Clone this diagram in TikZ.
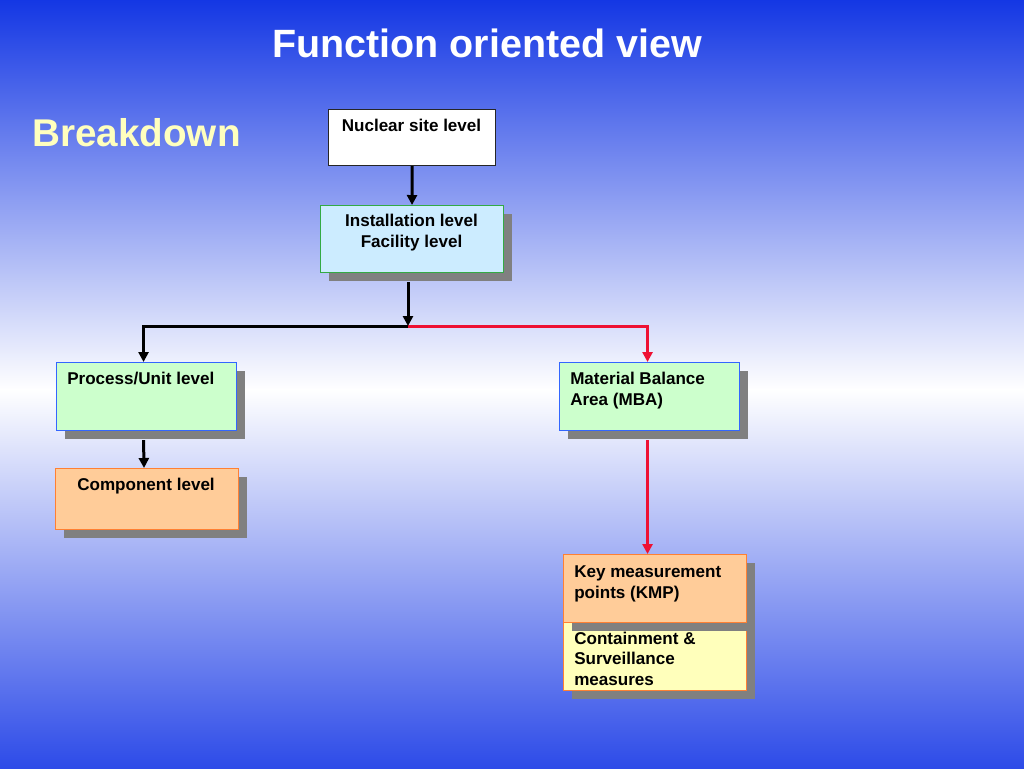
\documentclass[tikz,border=0pt]{standalone}
\usepackage{fontspec}
\setmainfont{Liberation Sans}
\usetikzlibrary{arrows.meta,shadows,calc}
\definecolor{topblue}{RGB}{20,55,228}
\definecolor{botblue}{RGB}{45,75,232}
\definecolor{breakyel}{RGB}{255,255,190}
\definecolor{instfill}{RGB}{204,236,255}
\definecolor{instdraw}{RGB}{51,170,68}
\definecolor{grnfill}{RGB}{204,255,204}
\definecolor{bluedraw}{RGB}{51,102,255}
\definecolor{orfill}{RGB}{255,204,153}
\definecolor{ordraw}{RGB}{255,128,51}
\definecolor{yelfill}{RGB}{255,255,187}
\definecolor{shadowgray}{RGB}{128,128,128}
\definecolor{redline}{RGB}{238,17,51}
\begin{document}
\begin{tikzpicture}[x=0.75pt,y=-0.75pt,
  box/.style={rectangle, inner sep=0pt, anchor=north west, line width=0.8pt},
  shbox/.style={box, general shadow={fill=shadowgray, shadow xshift=6.4pt, shadow yshift=-6.4pt}},
  lbl/.style={font=\bfseries\fontsize{12.8}{15.3}\selectfont, inner sep=0pt, align=left},
  blk/.style={draw=black, line width=2.25pt, -{Triangle[length=7.5pt,width=7.5pt]}},
  redl/.style={draw=redline, line width=2.25pt, -{Triangle[length=7.5pt,width=7.5pt]}}
]
\useasboundingbox (0,0) rectangle (1024,768);
\shade[top color=topblue, bottom color=white] (0,0) rectangle (1024,390);
\shade[top color=white, bottom color=botblue] (0,389) rectangle (1024,768);

\node[font=\bfseries\fontsize{29.6}{35}\selectfont, text=white, anchor=base west, inner sep=0pt] (title) at (272,57) {Function oriented view};
\node[font=\bfseries\fontsize{29}{35}\selectfont, text=breakyel, anchor=base west, inner sep=0pt] (brk) at (32,146) {Breakdown};

\node[box, fill=white, draw=black!85, line width=0.9pt, minimum width=125.25pt, minimum height=42pt] (nuc) at (328,109) {};
\node[shbox, fill=instfill, draw=instdraw, minimum width=137.25pt, minimum height=50.25pt] (inst) at (320,205) {};
\node[shbox, fill=grnfill, draw=bluedraw, minimum width=135pt, minimum height=51pt] (proc) at (56,362) {};
\node[shbox, fill=orfill, draw=ordraw, minimum width=137.25pt, minimum height=45.75pt] (comp) at (55,468) {};
\node[shbox, fill=grnfill, draw=bluedraw, minimum width=135pt, minimum height=51pt] (mba) at (559,362) {};
\node[shbox, fill=yelfill, draw=ordraw, minimum width=137.25pt, minimum height=52.5pt] (cs) at (563,620) {};
\node[shbox, fill=orfill, draw=ordraw, minimum width=137.25pt, minimum height=51pt] (kmp) at (563,554) {};

\node[lbl, anchor=base] (nuct) at (411.5,131) {Nuclear site level};
\node[lbl, anchor=base, align=center] (instt) at (411.5,247) {Installation level\\Facility level};
\node[lbl, anchor=base west] (proct) at (67,384) {Process/Unit level};
\node[lbl, anchor=base] (compt) at (146,490) {Component level};
\node[lbl, anchor=base west] (mbat) at (570,405) {Material Balance\\Area (MBA)};
\node[lbl, anchor=base west] (kmpt) at (574,598) {Key measurement\\points (KMP)};
\node[lbl, anchor=base west] (cst) at (574,685) {Containment \&\\Surveillance\\measures};

\coordinate (j) at (408,326);
\draw[blk] (nuc.south) -- (inst.north);
\draw[redl] (j) -| ($(mba.north)+(-2,0)$);
\draw[blk] (j) -| ($(proc.north)+(-3,0)$);
\draw[blk] (inst.south -| j) ++(0,9) -- (j);
\draw[blk] ($(proc.south)+(-3,9)$) -- ($(comp.north)+(-3,0)$);
\coordinate (m) at ($(mba.south)+(-2,9)$);
\draw[redl] (m) -- (m |- kmp.north);
\end{tikzpicture}
\end{document}
